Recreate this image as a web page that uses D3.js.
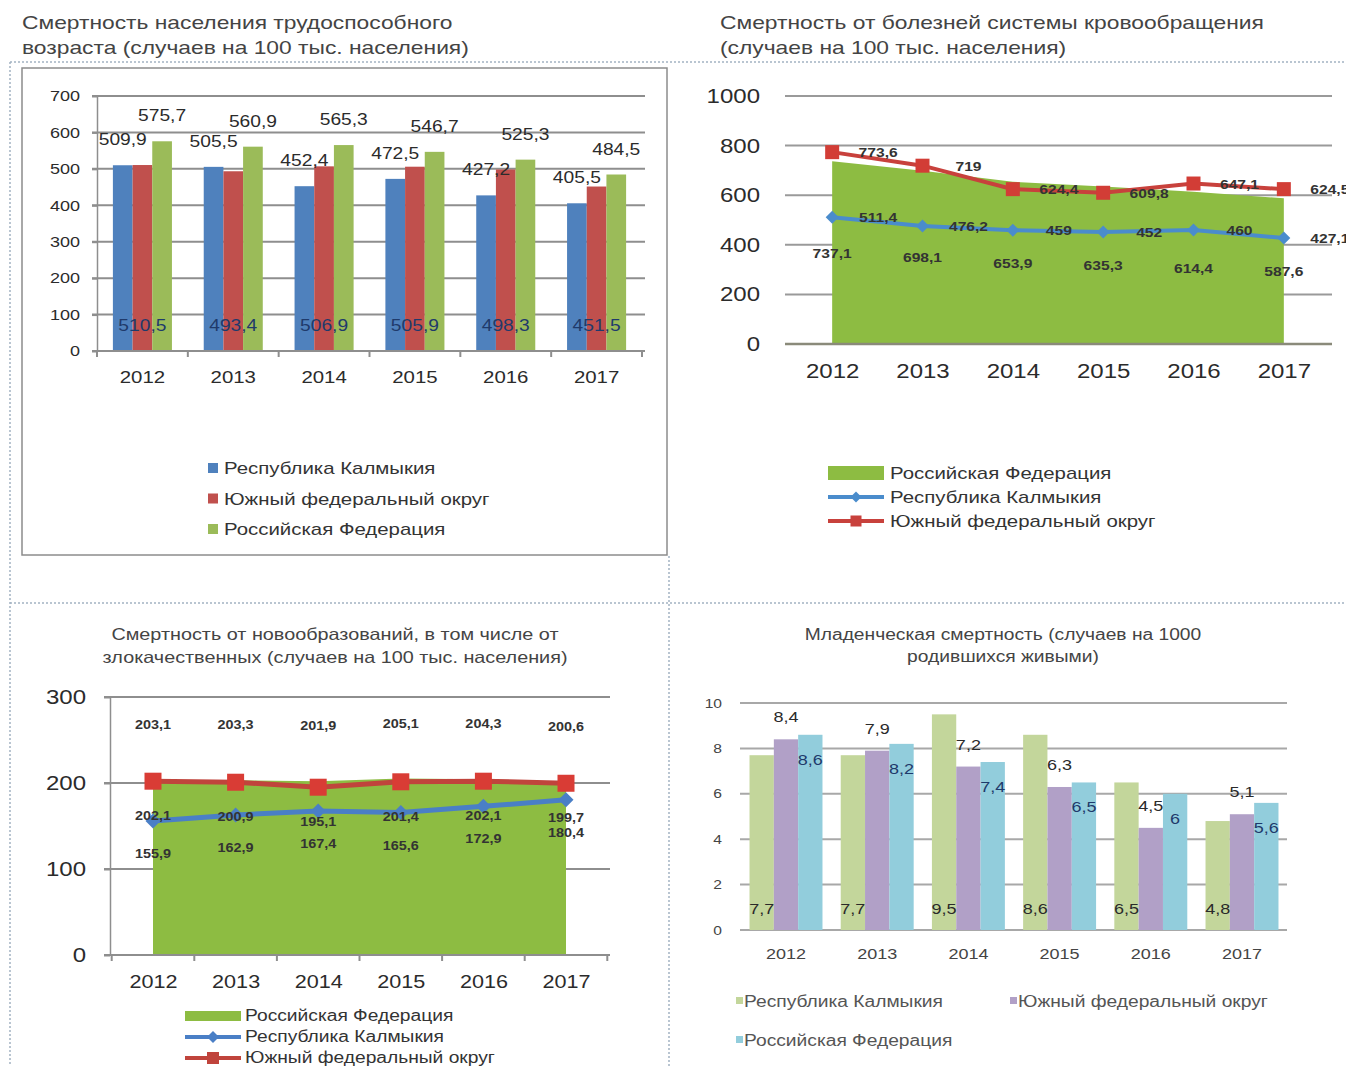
<!DOCTYPE html>
<html>
<head>
<meta charset="utf-8">
<script src="https://cdn.jsdelivr.net/npm/d3@7"></script>
<style>
  body { margin: 0; background: #fff; }
  svg { display: block; font-family: "Liberation Sans", Arial, sans-serif; }
</style>
</head>
<body>
<svg id="chart" width="1346" height="1066"></svg>
<script>
const years = ["2012", "2013", "2014", "2015", "2016", "2017"];
const names = ["Республика Калмыкия", "Южный федеральный округ", "Российская Федерация"];

// working-age mortality
const workKalm = [509.9, 505.5, 452.4, 472.5, 427.2, 405.5];
const workUfo = [510.5, 493.4, 506.9, 505.9, 498.3, 451.5];
const workRf = [575.7, 560.9, 565.3, 546.7, 525.3, 484.5];

// circulatory diseases
const circRf = [737.1, 698.1, 653.9, 635.3, 614.4, 587.6];
const circKalm = [511.4, 476.2, 459, 452, 460, 427.1];
const circUfo = [773.6, 719, 624.4, 609.8, 647.1, 624.5];

// neoplasms
const neoRf = [203.1, 203.3, 201.9, 205.1, 204.3, 200.6];
const neoKalm = [155.9, 162.9, 167.4, 165.6, 172.9, 180.4];
const neoUfo = [202.1, 200.9, 195.1, 201.4, 202.1, 199.7];

// infant mortality
const infKalm = [7.7, 7.7, 9.5, 8.6, 6.5, 4.8];
const infUfo = [8.4, 7.9, 7.2, 6.3, 4.5, 5.1];
const infRf = [8.6, 8.2, 7.4, 6.5, 6, 5.6];

const svg = d3.select("#chart");
const fmt = v => String(v).replace(".", ",");
const GRID = "#8e8e8e";
const TXT = "#2b2b2b";
const STRETCH = 1.2;   // the source picture is stretched sideways

// dotted panel frame
const dots = svg.append("g").attr("stroke", "#a3b3c2").attr("stroke-width", 1.5).attr("stroke-dasharray", "2,2");
dots.append("line").attr("x1", 10).attr("x2", 1346).attr("y1", 62).attr("y2", 62);
dots.append("line").attr("x1", 10).attr("x2", 1346).attr("y1", 603).attr("y2", 603);
dots.append("line").attr("x1", 10).attr("x2", 10).attr("y1", 62).attr("y2", 1066);
dots.append("line").attr("x1", 669).attr("x2", 669).attr("y1", 556).attr("y2", 1066);

function text(g, str, x, y, size, opts = {}) {
  return g.append("text")
    .attr("x", x).attr("y", y)
    .attr("font-size", size)
    .attr("fill", opts.fill || TXT)
    .attr("text-anchor", opts.anchor || "start")
    .attr("font-weight", opts.weight || "normal")
    .text(str);
}

function marker(g, kind, cx, cy, s, color) {
  if (kind === "square") {
    g.append("rect").attr("x", cx - s / 2).attr("y", cy - s / 2).attr("width", s).attr("height", s).attr("fill", color);
  } else {
    g.append("path").attr("d", `M${cx},${cy - s / 2}L${cx + s / 2},${cy}L${cx},${cy + s / 2}L${cx - s / 2},${cy}Z`).attr("fill", color);
  }
}

// ---------- chart 1: working-age mortality (grouped bars) ----------
{
  const g = svg.append("g");
  g.append("rect").attr("x", 22).attr("y", 68).attr("width", 645).attr("height", 487)
    .attr("fill", "none").attr("stroke", "#8c8c8c").attr("stroke-width", 1.5);
  text(g, "Смертность населения трудоспособного", 22, 29, 19, { fill: "#444" });
  text(g, "возраста (случаев на 100 тыс. населения)", 22, 54, 19, { fill: "#444" });

  const x = d3.scaleBand().domain(years).range([97, 642]).paddingInner(0.35).paddingOuter(0.175);
  const y = d3.scaleLinear().domain([0, 700]).range([351, 96]);
  const sub = d3.scaleBand().domain([0, 1, 2]).range([0, x.bandwidth()]);
  const colors = ["#4f81bd", "#c0504d", "#9bbb59"];

  g.selectAll("line.grid").data(y.ticks(7).filter(d => d > 0)).join("line")
    .attr("x1", 92).attr("x2", 645).attr("y1", d => y(d)).attr("y2", d => y(d))
    .attr("stroke", GRID).attr("stroke-width", 2);

  const ya = g.append("g").attr("transform", "translate(97,0)")
    .call(d3.axisLeft(y).ticks(7).tickSize(5).tickSizeOuter(0).tickPadding(12));
  ya.select(".domain").attr("stroke", GRID).attr("stroke-width", 1.5);
  ya.selectAll(".tick line").attr("stroke", GRID).attr("stroke-width", 2);
  ya.selectAll("text").attr("font-size", 15).attr("fill", TXT).attr("font-family", null);

  [workKalm, workUfo, workRf].forEach((vals, k) => {
    g.selectAll(null).data(vals).join("rect")
      .attr("x", (d, i) => x(years[i]) + sub(k))
      .attr("y", d => y(d))
      .attr("width", sub.bandwidth())
      .attr("height", d => y(0) - y(d))
      .attr("fill", colors[k]);
  });

  const xa = g.append("g").attr("transform", `translate(0,${y(0)})`)
    .call(d3.axisBottom(x).tickSize(0).tickPadding(20));
  xa.select(".domain").remove();
  xa.selectAll("text").attr("font-size", 17).attr("fill", TXT).attr("font-family", null);
  g.append("line").attr("x1", 92).attr("x2", 645).attr("y1", y(0)).attr("y2", y(0))
    .attr("stroke", GRID).attr("stroke-width", 2);
  g.selectAll("line.bt").data(d3.range(years.length + 1)).join("line")
    .attr("x1", i => 97 + i * x.step()).attr("x2", i => 97 + i * x.step())
    .attr("y1", y(0)).attr("y2", y(0) + 6).attr("stroke", GRID).attr("stroke-width", 2);

  workKalm.forEach((v, i) => text(g, fmt(v), x(years[i]) + sub(0) + sub.bandwidth() / 2, y(v) - 20, 16, { anchor: "middle" }));
  workRf.forEach((v, i) => text(g, fmt(v), x(years[i]) + sub(2) + sub.bandwidth() / 2, y(v) - 20, 16, { anchor: "middle" }));
  workUfo.forEach((v, i) => text(g, fmt(v), x(years[i]) + x.bandwidth() / 2, y(0) - 20, 16, { anchor: "middle", fill: "#1f3a6b" }));

  names.forEach((n, k) => {
    const ly = 468 + k * 30.5;
    g.append("rect").attr("x", 208).attr("y", ly - 5).attr("width", 10).attr("height", 10).attr("fill", colors[k]);
    text(g, n, 224, ly + 6, 17, { fill: "#333" });
  });
}

// ---------- chart 2: circulatory diseases (area + lines) ----------
{
  const g = svg.append("g");
  text(g, "Смертность от болезней системы кровообращения", 720, 29, 19, { fill: "#444" });
  text(g, "(случаев на 100 тыс. населения)", 720, 54, 19, { fill: "#444" });

  const x = d3.scalePoint().domain(years).range([787, 1329]).padding(0.5);
  const y = d3.scaleLinear().domain([0, 1000]).range([344, 96]);
  const px = (d, i) => x(years[i]);

  g.selectAll("line.grid").data(y.ticks(5)).join("line")
    .attr("x1", 785).attr("x2", 1332).attr("y1", d => y(d)).attr("y2", d => y(d))
    .attr("stroke", "#9a9a9a").attr("stroke-width", 2);

  const ya = g.append("g").attr("transform", "translate(768,0)")
    .call(d3.axisLeft(y).ticks(5).tickFormat(d3.format("d")).tickSize(0).tickPadding(8));
  ya.select(".domain").remove();
  ya.selectAll("text").attr("font-size", 20).attr("fill", TXT).attr("font-family", null);

  const xa = g.append("g").attr("transform", `translate(0,${y(0)})`)
    .call(d3.axisBottom(x).tickSize(0).tickPadding(20));
  xa.select(".domain").remove();
  xa.selectAll("text").attr("font-size", 20).attr("fill", TXT).attr("font-family", null);

  g.append("path").datum(circRf)
    .attr("d", d3.area().x(px).y0(y(0)).y1(d => y(d)))
    .attr("fill", "#8dbc42");
  g.append("line").attr("x1", 785).attr("x2", 1332).attr("y1", y(0)).attr("y2", y(0))
    .attr("stroke", "#8a8a7a").attr("stroke-width", 2.5);

  const line = d3.line().x(px).y(d => y(d));
  g.append("path").datum(circKalm).attr("d", line).attr("fill", "none").attr("stroke", "#4a8ccc").attr("stroke-width", 4);
  g.append("path").datum(circUfo).attr("d", line).attr("fill", "none").attr("stroke", "#c8413c").attr("stroke-width", 4);
  circKalm.forEach((v, i) => marker(g, "diamond", px(v, i), y(v), 13, "#4a8ccc"));
  circUfo.forEach((v, i) => marker(g, "square", px(v, i), y(v), 14, "#d23d36"));

  circRf.forEach((v, i) => text(g, fmt(v), px(v, i), y(v / 2) + 5, 13, { anchor: "middle", weight: "bold", fill: "#333" }));
  circKalm.forEach((v, i) => text(g, fmt(v), px(v, i) + 46, y(v) + 5, 13, { anchor: "middle", weight: "bold", fill: "#333" }));
  circUfo.forEach((v, i) => text(g, fmt(v), px(v, i) + 46, y(v) + 5, 13, { anchor: "middle", weight: "bold", fill: "#333" }));

  const lg = [
    { name: names[2], kind: "area", color: "#8dbc42" },
    { name: names[0], kind: "diamond", color: "#4a8ccc" },
    { name: names[1], kind: "square", color: "#c8413c" }
  ];
  lg.forEach((d, k) => {
    const ly = 473 + k * 24;
    if (d.kind === "area") {
      g.append("rect").attr("x", 828).attr("y", ly - 7).attr("width", 56).attr("height", 14).attr("fill", d.color);
    } else {
      g.append("line").attr("x1", 828).attr("x2", 884).attr("y1", ly).attr("y2", ly).attr("stroke", d.color).attr("stroke-width", 4);
      marker(g, d.kind, 856, ly, 11, d.color);
    }
    text(g, d.name, 890, ly + 6, 17, { fill: "#333" });
  });
}

// ---------- chart 3: neoplasms (area + lines) ----------
{
  const g = svg.append("g");
  text(g, "Смертность от новообразований, в том числе от", 335, 640, 16.5, { anchor: "middle", fill: "#444" });
  text(g, "злокачественных (случаев на 100 тыс. населения)", 335, 663, 16.5, { anchor: "middle", fill: "#444" });

  const x = d3.scalePoint().domain(years).range([111.7, 607.3]).padding(0.5);
  const y = d3.scaleLinear().domain([0, 300]).range([955, 697]);
  const px = (d, i) => x(years[i]);

  g.selectAll("line.grid").data(y.ticks(3).filter(d => d > 0)).join("line")
    .attr("x1", 104).attr("x2", 610).attr("y1", d => y(d)).attr("y2", d => y(d))
    .attr("stroke", GRID).attr("stroke-width", 2);

  const ya = g.append("g").attr("transform", "translate(110,0)")
    .call(d3.axisLeft(y).ticks(3).tickSize(6).tickSizeOuter(0).tickPadding(18));
  ya.select(".domain").attr("stroke", GRID).attr("stroke-width", 1.5);
  ya.selectAll(".tick line").attr("stroke", GRID).attr("stroke-width", 2);
  ya.selectAll("text").attr("font-size", 20).attr("fill", TXT).attr("font-family", null);

  const xa = g.append("g").attr("transform", `translate(0,${y(0)})`)
    .call(d3.axisBottom(x).tickSize(0).tickPadding(20));
  xa.select(".domain").remove();
  xa.selectAll("text").attr("font-size", 18).attr("fill", TXT).attr("font-family", null);

  g.append("path").datum(neoRf)
    .attr("d", d3.area().x(px).y0(y(0)).y1(d => y(d)))
    .attr("fill", "#8dbc42");
  g.append("line").attr("x1", 104).attr("x2", 610).attr("y1", y(0)).attr("y2", y(0))
    .attr("stroke", GRID).attr("stroke-width", 2);
  g.selectAll("line.bt").data(d3.range(years.length + 1)).join("line")
    .attr("x1", i => 111.7 + i * x.step()).attr("x2", i => 111.7 + i * x.step())
    .attr("y1", y(0)).attr("y2", y(0) + 6).attr("stroke", GRID).attr("stroke-width", 2);

  const line = d3.line().x(px).y(d => y(d));
  g.append("path").datum(neoKalm).attr("d", line).attr("fill", "none").attr("stroke", "#4a7fc6").attr("stroke-width", 5);
  g.append("path").datum(neoUfo).attr("d", line).attr("fill", "none").attr("stroke", "#c0443c").attr("stroke-width", 5);
  neoKalm.forEach((v, i) => marker(g, "diamond", px(v, i), y(v), 15, "#4a7fc6"));
  neoUfo.forEach((v, i) => marker(g, "square", px(v, i), y(v), 17, "#d93c35"));

  neoRf.forEach((v, i) => text(g, fmt(v), px(v, i), y(v) - 51, 12, { anchor: "middle", weight: "bold", fill: "#333" }));
  neoUfo.forEach((v, i) => text(g, fmt(v), px(v, i), y(v) + 39, 12, { anchor: "middle", weight: "bold", fill: "#333" }));
  neoKalm.forEach((v, i) => text(g, fmt(v), px(v, i), y(v) + 37, 12, { anchor: "middle", weight: "bold", fill: "#333" }));

  const lg = [
    { name: names[2], kind: "area", color: "#8dbc42" },
    { name: names[0], kind: "diamond", color: "#4a7fc6" },
    { name: names[1], kind: "square", color: "#c0443c" }
  ];
  lg.forEach((d, k) => {
    const ly = 1016 + k * 21;
    if (d.kind === "area") {
      g.append("rect").attr("x", 185).attr("y", ly - 5).attr("width", 56).attr("height", 10).attr("fill", d.color);
    } else {
      g.append("line").attr("x1", 185).attr("x2", 241).attr("y1", ly).attr("y2", ly).attr("stroke", d.color).attr("stroke-width", 4);
      marker(g, d.kind, 213, ly, 12, d.color);
    }
    text(g, d.name, 245, ly + 5, 16, { fill: "#333" });
  });
}

// ---------- chart 4: infant mortality (grouped bars) ----------
{
  const g = svg.append("g");
  text(g, "Младенческая смертность (случаев на 1000", 1003, 640, 16, { anchor: "middle", fill: "#444" });
  text(g, "родившихся живыми)", 1003, 662, 16, { anchor: "middle", fill: "#444" });

  const x = d3.scaleBand().domain(years).range([740.4, 1287.6]).paddingInner(0.2).paddingOuter(0.1);
  const y = d3.scaleLinear().domain([0, 10]).range([930, 703]);
  const sub = d3.scaleBand().domain([0, 1, 2]).range([0, x.bandwidth()]);
  const colors = ["#c3d69b", "#b1a0c7", "#92cddc"];

  g.selectAll("line.grid").data(y.ticks(5)).join("line")
    .attr("x1", 740).attr("x2", 1287).attr("y1", d => y(d)).attr("y2", d => y(d))
    .attr("stroke", "#a8a8a8").attr("stroke-width", 2);

  const ya = g.append("g").attr("transform", "translate(730,0)")
    .call(d3.axisLeft(y).ticks(5).tickSize(0).tickPadding(8));
  ya.select(".domain").remove();
  ya.selectAll("text").attr("font-size", 13).attr("fill", "#444").attr("font-family", null);

  [infKalm, infUfo, infRf].forEach((vals, k) => {
    g.selectAll(null).data(vals).join("rect")
      .attr("x", (d, i) => x(years[i]) + sub(k))
      .attr("y", d => y(d))
      .attr("width", sub.bandwidth())
      .attr("height", d => y(0) - y(d))
      .attr("fill", colors[k]);
  });

  const xa = g.append("g").attr("transform", `translate(0,${y(0)})`)
    .call(d3.axisBottom(x).tickSize(0).tickPadding(18));
  xa.select(".domain").remove();
  xa.selectAll("text").attr("font-size", 15).attr("fill", "#444").attr("font-family", null);

  infKalm.forEach((v, i) => text(g, fmt(v), x(years[i]) + sub(0) + sub.bandwidth() / 2, y(0) - 16, 15, { anchor: "middle", fill: "#2a2a2a" }));
  infUfo.forEach((v, i) => text(g, fmt(v), x(years[i]) + sub(1) + sub.bandwidth() / 2, y(v) - 17, 15, { anchor: "middle", fill: "#2a2a2a" }));
  infRf.forEach((v, i) => text(g, fmt(v), x(years[i]) + sub(2) + sub.bandwidth() / 2, y(v) + 30, 15, { anchor: "middle", fill: "#1f3a6b" }));

  const pos = [[736, 1001], [1010, 1001], [736, 1040]];
  names.forEach((n, k) => {
    g.append("rect").attr("x", pos[k][0]).attr("y", pos[k][1] - 4).attr("width", 7).attr("height", 7).attr("fill", colors[k]);
    text(g, n, pos[k][0] + 8, pos[k][1] + 6, 16, { fill: "#555" });
  });
}

// widen every label the way the source picture is widened
svg.selectAll("text").each(function () {
  const w = this.getComputedTextLength();
  this.setAttribute("textLength", w * STRETCH);
  this.setAttribute("lengthAdjust", "spacingAndGlyphs");
});
</script>
</body>
</html>
